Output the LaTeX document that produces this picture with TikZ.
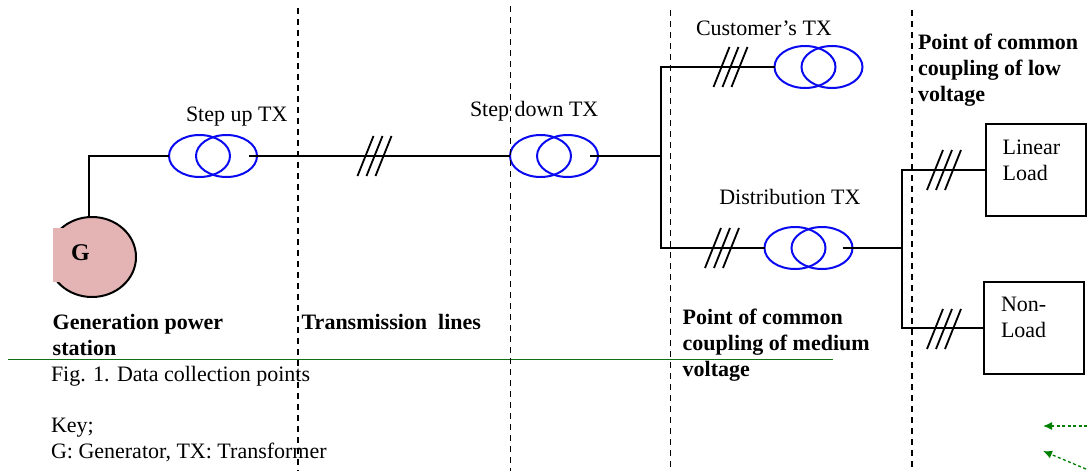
\documentclass[tikz,border=0pt]{standalone}
\usepackage{fontspec}
\setmainfont{Liberation Serif}
\usetikzlibrary{shapes.geometric,arrows.meta}
\definecolor{genpink}{RGB}{228,180,180}
\definecolor{rulegreen}{RGB}{20,110,20}
\definecolor{arrowgreen}{RGB}{0,128,0}
\definecolor{txblue}{RGB}{10,10,240}
\begin{document}
\begin{tikzpicture}[x=1pt,y=-1pt,
  every node/.style={inner sep=0pt, outer sep=0pt, font=\fontsize{22}{26}\selectfont},
  wire/.style={line width=2pt, black},
  coil/.style={ellipse, draw=txblue, line width=2pt, minimum width=61pt, minimum height=42pt},
  divider/.style={line width=1.5pt, dash pattern=on 6pt off 5pt},
  lbl/.style={anchor=base west},
  blbl/.style={anchor=base west, font=\fontsize{22}{26}\selectfont\bfseries, align=left},
  loadbox/.style={draw, line width=2pt, minimum width=100pt, minimum height=92pt},
  loadtext/.style={anchor=base west, align=left},
  feedarrow/.style={arrowgreen, line width=1.3pt, dash pattern=on 3pt off 2.5pt, -{Latex[length=9pt,width=8pt]}},
  slashes/.pic={\foreach \d in {-9,0,9} \draw[line width=1.8pt] (\d-8,20) -- (\d+8,-20);}
]
\useasboundingbox (0,0) rectangle (1087,471);

% generator
\node[ellipse, draw, line width=2pt, fill=genpink, minimum width=88pt, minimum height=80pt] (gen) at (92,257) {};
\fill[white] (45,228) rectangle (53,282);
\fill[genpink] (53,228) rectangle (100,282);
\node[anchor=base, font=\fontsize{24}{28}\selectfont\bfseries] (glabel) at (80.5,260.7) {G};

% transformers
\node[coil] (su1) at (199.5,156) {};
\node[coil] (su2) at (226.5,156) {};
\node[coil] (sd1) at (540.5,156) {};
\node[coil] (sd2) at (567.5,156) {};
\node[coil] (ct1) at (805,67) {};
\node[coil] (ct2) at (832,67) {};
\node[coil] (dt1) at (795,248) {};
\node[coil] (dt2) at (822,248) {};

% loads
\node[loadbox] (ll) at (1036,170) {};
\node[loadbox] (nl) at (1034,327.5) {};
\node[loadtext] (llt) at (1002.7,180) {Linear\\Load};
\node[loadtext] (nlt) at (1001,337.3) {Non-\\Load};

% bus coordinates
\coordinate (jA) at (661,156);
\coordinate (busAtop) at (661,67);
\coordinate (busAbot) at (661,248);
\coordinate (jB) at (902,248);
\coordinate (busBtop) at (902,170);
\coordinate (busBbot) at (902,327.5);

% wires
\draw[wire] ([xshift=-3pt]gen.north) |- (su1.west);
\draw[wire] ([xshift=-8pt]su2.east) -- (sd1.west);
\draw[wire] ([xshift=-8pt]sd2.east) -- (jA);
\draw[wire] (ct1.west) -- (busAtop) -- (busAbot) -- (dt1.west);
\draw[wire] ([xshift=-10pt]dt2.east) -- (jB);
\draw[wire] (ll.west) -- (busBtop) -- (busBbot) -- (nl.west);

% three-phase marks
\pic at (374.5,156) {slashes};
\pic at (730.5,67) {slashes};
\pic at (722,248) {slashes};
\pic at (944,170) {slashes};
\pic at (944,329) {slashes};

% labels
\node[lbl] (sulbl) at (186,121.7) {Step up TX};
\node[lbl] (sdlbl) at (470,116.7) {Step down TX};
\node[lbl] (ctlbl) at (696,35) {Customer’s TX};
\node[lbl] (dtlbl) at (719.3,204) {Distribution TX};

\node[blbl] (genlbl) at (52.7,355) {Generation power\\station};
\node[blbl] (trlbl) at (301.7,329) {Transmission~~lines};
\node[blbl] (pccm) at (682.7,376) {Point of common\\coupling of medium\\voltage};
\node[blbl] (pccl) at (918,101.7) {Point of common\\coupling of low\\voltage};

\node[lbl] (cap) at (51,381) {Fig. 1. Data collection points};
\node[lbl] (key) at (51,432.7) {Key;};
\node[lbl] (keyg) at (51,458) {G: Generator, TX: Transformer};

% rule
\coordinate (ruleL) at (8,359.3);
\coordinate (ruleR) at (833,359.3);
\draw[rulegreen, line width=1.6pt] (ruleL) -- (ruleR);

% dividers
\coordinate (d1t) at (298,8);   \coordinate (d1b) at (298,471);
\coordinate (d2t) at (510.5,6); \coordinate (d2b) at (510.5,471);
\coordinate (d3t) at (670.7,10);\coordinate (d3b) at (670.7,471);
\coordinate (d4t) at (912,10);  \coordinate (d4b) at (912,471);
\draw[divider] (d1t) -- (d1b);
\draw[divider] (d2t) -- (d2b);
\draw[divider] (d3t) -- (d3b);
\draw[divider] (d4t) -- (d4b);

% green arrows
\coordinate (fa1s) at (1087,426); \coordinate (fa1e) at (1043,426);
\coordinate (fa2s) at (1086,469); \coordinate (fa2e) at (1043,451);
\draw[feedarrow] (fa1s) -- (fa1e);
\draw[feedarrow] (fa2s) -- (fa2e);
\end{tikzpicture}
\end{document}
